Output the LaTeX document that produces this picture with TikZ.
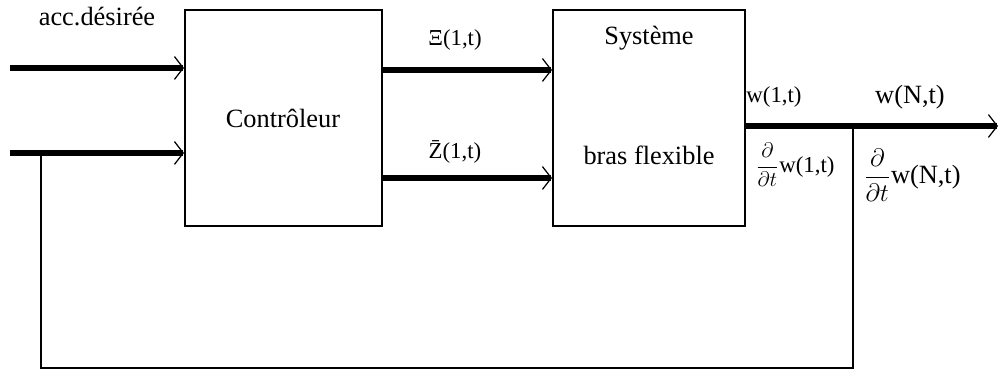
\documentclass[tikz,border=0pt]{standalone}
\usepackage{amsmath}
\usepackage{fontspec}
\setmainfont{Liberation Serif}
\newfontfamily\tnr{Liberation Serif}
\usetikzlibrary{arrows.meta}
\begin{document}
\begin{tikzpicture}[x=0.2mm,y=-0.2mm,
  blk/.style={draw,line width=1.1pt,minimum width=#1,inner sep=0pt},
  sig/.style={line width=3pt,-{Straight Barb[length=5pt,width=13pt,line width=0.7pt]}},
  fb/.style={line width=1.6pt},
  lbl/.style={font=\tnr\fontsize{15}{17}\selectfont,inner sep=0pt},
  slbl/.style={font=\tnr\fontsize{13}{15}\selectfont,inner sep=0pt}]
\useasboundingbox (0,0) rectangle (1000,385);
\node[blk=197*0.2mm,minimum height=216*0.2mm] (ctrl) at (283.5,118) {};
\node[lbl] (ctrltxt) at (283,118) {Contrôleur};
\node[blk=192*0.2mm,minimum height=216*0.2mm] (sys) at (649,118) {};
\node[lbl] (sys1) at (649,38) {Système};
\node[lbl] (sys2) at (649,155) {bras flexible};
\node[lbl] (acc) at (97,17) {acc.désirée};
\coordinate (in1) at (10,68);
\coordinate (in2) at (10,153);
\draw[sig] (in1) -- (in1 -| ctrl.west);
\draw[sig] (in2) -- (in2 -| ctrl.west);
\coordinate (m1) at (380,70);
\coordinate (m2) at (380,178);
\draw[sig] (m1 -| ctrl.east) -- (m1 -| sys.west);
\draw[sig] (m2 -| ctrl.east) -- (m2 -| sys.west);
\node[slbl] (xi1) at (455,40) {Ξ(1,t)};
\node[slbl] (xi2) at (455,152) {Z̄(1,t)};
\coordinate (o) at (745,126);
\coordinate (out) at (998,126);
\coordinate (br) at (853,126);
\draw[sig] (o -| sys.east) -- (out);
\coordinate (fb1) at (853,368);
\coordinate (fb2) at (41,368);
\coordinate (fb3) at (41,153);
\draw[fb] (br) -- (fb1) -- (fb2) -- (fb3);
\node[slbl] (w1) at (774,97) {w(1,t)};
\node[lbl] (wN) at (910,97) {w(N,t)};
\node[slbl] (dw1) at (795,165) {$\dfrac{\partial}{\partial t}$w(1,t)};
\node[lbl] (dwN) at (912,175) {$\dfrac{\partial}{\partial t}$w(N,t)};
\end{tikzpicture}
\end{document}
